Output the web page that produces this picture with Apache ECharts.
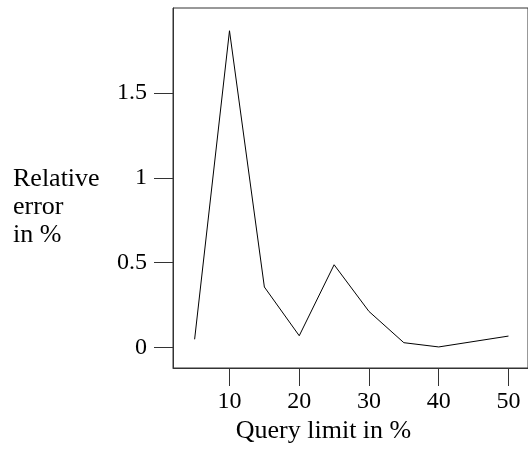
<!DOCTYPE html>
<html>
<head>
<meta charset="utf-8">
<script src="https://cdn.jsdelivr.net/npm/echarts@6/dist/echarts.min.js"></script>
<style>
html,body{margin:0;padding:0;background:#fff;}
#c{width:528px;height:452px;}
</style>
</head>
<body>
<div id="c"></div>
<script>
// Data
const queryLimit = [5, 10, 15, 20, 25, 30, 35, 40, 50];
const relativeError = [0.049, 1.866, 0.357, 0.07, 0.488, 0.213, 0.029, 0.004, 0.068];
const xTickValues = [10, 20, 30, 40, 50];
const yTickValues = [0, 0.5, 1, 1.5];
const xAxisTitle = 'Query limit in %';
const yAxisTitle = ['Relative', 'error', 'in %'];

const FONT = '"Liberation Serif", "DejaVu Serif", serif';
const AXIS_COLOR = '#333';

const chart = echarts.init(document.getElementById('c'), null, {renderer: 'canvas'});
chart.setOption({
  animation: false,
  backgroundColor: '#fff',
  grid: {
    left: 173, top: 8, right: -3, bottom: 84,
    show: true, borderColor: AXIS_COLOR, borderWidth: 1, backgroundColor: 'transparent'
  },
  xAxis: {
    type: 'value', min: 1.9, max: 52.8,
    axisLine: {show: true, onZero: false, lineStyle: {color: AXIS_COLOR, width: 1}},
    axisTick: {show: true, length: 18, inside: false, customValues: xTickValues, lineStyle: {color: AXIS_COLOR, width: 1}},
    axisLabel: {customValues: xTickValues, margin: 22, color: '#000', fontFamily: FONT, fontSize: 24},
    splitLine: {show: false}
  },
  yAxis: {
    type: 'value', min: -0.12, max: 2.0,
    axisLine: {show: true, onZero: false, lineStyle: {color: AXIS_COLOR, width: 1}},
    axisTick: {show: true, length: 19, inside: false, customValues: yTickValues, lineStyle: {color: AXIS_COLOR, width: 1}},
    axisLabel: {customValues: yTickValues, margin: 26, color: '#000', fontFamily: FONT, fontSize: 24},
    splitLine: {show: false}
  },
  graphic: [
    {
      type: 'text', x: 13, y: 165.5,
      style: {text: yAxisTitle.join('\n'), font: '26px ' + FONT, fill: '#000', lineHeight: 28,
              align: 'left', verticalAlign: 'top'}
    },
    {
      type: 'text', x: 323.5, y: 431,
      style: {text: xAxisTitle, font: '26px ' + FONT, fill: '#000',
              align: 'center', verticalAlign: 'middle'}
    }
  ],
  series: [{
    type: 'line',
    data: queryLimit.map((q, i) => [q, relativeError[i]]),
    showSymbol: false,
    symbol: 'none',
    lineStyle: {color: '#000', width: 1},
    clip: true
  }]
});
</script>
</body>
</html>
